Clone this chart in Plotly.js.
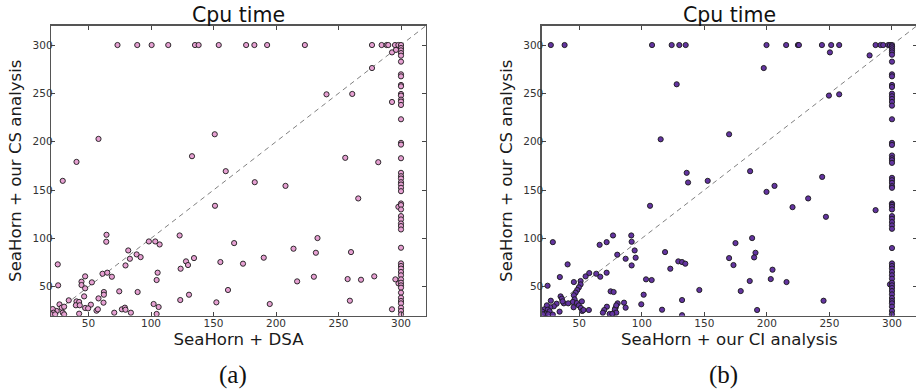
<!DOCTYPE html>
<html>
<head>
<meta charset="utf-8">
<script src="https://cdn.plot.ly/plotly-3.0.1.min.js"></script>
<style>
html,body{margin:0;padding:0;overflow:hidden;background:#fff;width:916px;height:391px;}
#plot{width:920px;height:391px;}
</style>
</head>
<body>
<div id="plot"></div>
<script>
// Panel (a): SeaHorn + DSA (x) vs SeaHorn + our CS analysis (y)
const dsaX = [73.2,89,100.5,113.8,135.2,138.1,154.2,176.1,182.7,192.9,223.1,276.8,284.5,288.5,289.8,295.2,297.9,
  292.8,296,276.8,292.8,
  297.9,298,292.8,295.5,
  58,40.4,29.4,151,132.8,159.8,183,207.6,151.2,240.4,261,255.4,281.8,265.8,233.2,214,231.9,260,190.2,173.6,155.5,166.5,
  122.9,134.4,128,129.6,123.7,230.3,257.3,268,278.6,216.9,161.6,130.4,123.4,152.3,195,259.1,
  98.3,103.4,106.9,105.3,104.5,102.1,106.1,104.5,64.4,64.2,81.8,88.5,83.1,91.7,79.6,61.2,65,68.7,47.3,44.4,44.4,52.7,47.3,
  25.4,25.7,46.5,62.3,62.3,74.6,89.3,58,34.2,62,51.9,40.4,42.5,39.9,43,47.3,49.7,56.4,57.5,76.7,79.1,79.6,70.6,83.9,42.5,
  26.8,28.6,30.5,24.6,21.4,22,20.1,29.4,30.5,23.3];
const csYa = [300,300,300,300,300,300,300,300,300,300,300,300,300,300,300,300,300,
  292.4,295,276.2,241.1,
  132.6,53.4,26.6,57.6,
  202.9,179.1,159.5,207.7,185,169.5,158.1,154.3,133.7,249,249.4,183.3,178.8,141.3,100.3,89.3,85.1,85.8,80,73.8,75.5,95.1,
  103,79.6,76.2,72.4,68.6,60.3,57.9,57.2,60.7,55.5,46.6,41.7,36.2,33.8,32.1,35.5,
  96.8,96.8,93.7,64.5,56.9,32.1,29,21.8,103.7,96.5,87.5,83.4,78.9,80.6,72,63.4,64.5,60.3,60.7,55.2,51.7,54.5,48.3,
  73.1,51.4,40,44.5,41.7,45.2,44.5,37.9,35.9,33.5,31.4,34.8,34.2,30.8,30.8,28,27.6,25.2,26.6,26.6,28.3,26.2,23.1,23.1,22.1,
  31.7,28.3,29.3,24.9,26.9,23.1,21.4,23.1,21.4,21.4];
// points at the 300 s timeout of the DSA run
const colAY = [300,296.9,294.5,291.7,289,282.8,269.7,267.6,258.7,257.3,249.4,247.7,243.5,241.5,238,223.2,198.8,197,182.9,
  167.8,164.3,161.9,158.1,155.7,152.3,148.8,136.1,134.4,129.9,123,119.6,115.4,112.7,109.2,90.3,74.1,71.4,68.7,65.2,61.8,
  57.6,54.1,51.4,49,43.8,38.6,35.2,32.8,28.3,24.9,21.4];

// Panel (b): SeaHorn + our CI analysis (x) vs SeaHorn + our CS analysis (y)
const ciX = [27.3,38.3,108.2,123.9,130,135.1,199.7,215.4,224.8,225.6,244,251.4,257.8,286.9,290.9,293,297,298.4,
  250.4,282.1,197.5,127.9,249.6,257.8,115.1,169.8,135.9,137,152.7,186.6,244.2,206.1,199.7,233,220.5,286.9,247.2,106.6,
  188.2,174.9,190.9,189.8,169.8,173.3,204.5,203.1,186.3,215.7,179.1,146,245.3,192.2,118.6,122.8,129.2,132.2,134.8,
  103.4,107.9,101.5,99.6,132.2,116.2,132.2,91.6,91.9,94.3,95.1,91.9,87.1,80.4,77,71.9,66.3,66.8,63.6,71.9,58,55.1,
  51.1,45.7,51.1,49.7,48.4,47.1,45.7,46.3,44.9,45.5,48.1,49.7,51.3,52.1,52.4,53.4,57.7,34.5,40.7,28.9,24.7,35.1,36.1,
  37.7,41.2,36.7,34.3,27.3,31.9,29.7,26.8,24.1,22,24.9,26.3,20.4,23.1,21,25.2,28.9,75.1,77.5,72.1,70,68.9,74.3,77.7,
  79.1,80.7,78.5,79.6,85.8,87.1,79.6,76.4,298.4];
const csYb = [300,300,300,300,300,300,300,300,300,300,300,300,300,300,300,300,300,300,
  292.4,289.3,276.2,259.4,247.7,249,202.5,207.7,167.8,157.8,159.5,169.5,163.6,154.3,148.1,141.3,132.3,129.2,122.3,133.7,
  100.3,95.1,85.1,80.3,79.6,72.4,67.6,57.9,55.9,54.8,45.5,46.6,35.5,25.9,85.8,68.6,76.2,75.5,73.8,
  57.6,56.9,41.7,31.8,36.2,26.2,20.5,103,96.5,87.5,80,72,78.9,83.1,103,96.1,93.3,60.3,63.4,64.5,64.1,60.7,
  55.9,54.8,52.4,49.3,46.6,43.8,41.1,36.9,34.2,28.7,33.1,30.7,28,34.8,24.9,25.9,25.9,60,73.1,96.1,51,40,37.6,
  32.8,32.8,34.8,24.2,35.5,32.4,29.7,28.7,30.7,26.6,26.2,24.5,24.2,22.1,21.4,21.4,21.1,45.2,44.5,29.3,25.9,23.1,21.8,23.1,
  28.3,32.8,26.6,23.1,33.5,28.3,30.7,21.8,52.4];
// points at the 300 s timeout of the CI run
const colBY = [300,298.6,296.6,294.5,292.4,290,282.8,269.7,267.6,258.7,256.6,249.7,247,244.2,241.1,237.3,223.2,198.8,196.7,
  185.7,182.9,180.9,178.1,162.6,160.2,157.4,154,152.3,136.1,134.7,132.6,129.9,123,120.2,116.8,113.4,109.9,90,74.1,71.4,
  68.7,65.2,61.8,58.3,54.1,51.4,48.6,45.5,42.1,38.3,35.2,32.8,29.3,24.9,21.4];
const timeoutX = 300;
const diag = [20, 320];
const tickVals = [50, 100, 150, 200, 250, 300];
const tickText = ['50', '100', '150', '200', '250', '300'];
const panelTitles = ['Cpu time', 'Cpu time'];
const panelLabels = ['(a)', '(b)'];
const xTitles = ['SeaHorn + DSA', 'SeaHorn + our CI analysis'];
const yTitle = 'SeaHorn + our CS analysis';

const W = 920, H = 391;
const FONT = 'DejaVu Sans, sans-serif';
const pinkFill = '#e6a0d2', purpleFill = '#6334a0';

function pts(xs, ys, fill, xa, ya) {
  return {type: 'scatter', mode: 'markers', x: xs, y: ys, xaxis: xa, yaxis: ya, hoverinfo: 'x+y',
    marker: {size: 5.2, color: fill, line: {color: '#1a1a1a', width: 0.9}}, showlegend: false};
}
function diagTrace(xa, ya) {
  return {type: 'scatter', mode: 'lines', x: diag, y: diag, xaxis: xa, yaxis: ya, hoverinfo: 'skip',
    line: {color: '#808080', width: 1, dash: '5px,4px'}, showlegend: false};
}
const traces = [
  diagTrace('x', 'y'),
  pts(dsaX, csYa, pinkFill, 'x', 'y'),
  pts(colAY.map(() => timeoutX), colAY, pinkFill, 'x', 'y'),
  diagTrace('x2', 'y2'),
  pts(ciX, csYb, purpleFill, 'x2', 'y2'),
  pts(colBY.map(() => timeoutX), colBY, purpleFill, 'x2', 'y2')
];

function ax(domain, title, isX) {
  return {
    domain: domain, range: [20, 320], autorange: false, showgrid: false, zeroline: false,
    showline: true, linecolor: '#555', linewidth: 1.3, mirror: 'ticks',
    ticks: 'inside', ticklen: 4, tickwidth: 1, tickcolor: '#444',
    tickmode: 'array', tickvals: tickVals, ticktext: tickText,
    ticklabelstandoff: isX ? -3 : -5,
    tickfont: {family: FONT, size: 10.5, color: '#333'},
    title: {text: title, font: {family: FONT, size: 16.6, color: '#1a1a1a'}, standoff: isX ? 5 : 6},
    automargin: false
  };
}
const xdA = [51 / W, 426 / W], xdB = [541.7 / W, 917 / W];
const yd = [(H - 315.7) / H, (H - 25.7) / H];
const serif = 'Liberation Serif, DejaVu Serif, serif';
const layout = {
  width: W, height: H, margin: {l: 0, r: 0, t: 0, b: 0},
  paper_bgcolor: '#fff', plot_bgcolor: '#fff',
  xaxis: ax(xdA, xTitles[0], true),
  yaxis: Object.assign(ax(yd, yTitle, false), {anchor: 'x'}),
  xaxis2: Object.assign(ax(xdB, xTitles[1], true), {anchor: 'y2'}),
  yaxis2: Object.assign(ax(yd, yTitle, false), {anchor: 'x2'}),
  annotations: [
    {text: panelTitles[0], xref: 'paper', yref: 'paper', x: (xdA[0] + xdA[1]) / 2, y: 1 - 14.5 / H,
      xanchor: 'center', yanchor: 'middle', showarrow: false, font: {family: FONT, size: 20.5, color: '#111'}},
    {text: panelTitles[1], xref: 'paper', yref: 'paper', x: (xdB[0] + xdB[1]) / 2, y: 1 - 14.5 / H,
      xanchor: 'center', yanchor: 'middle', showarrow: false, font: {family: FONT, size: 20.5, color: '#111'}},
    {text: panelLabels[0], xref: 'paper', yref: 'paper', x: 232.5 / W, y: 1 - 375 / H,
      xanchor: 'center', yanchor: 'middle', showarrow: false, font: {family: serif, size: 25, color: '#111'}},
    {text: panelLabels[1], xref: 'paper', yref: 'paper', x: 723 / W, y: 1 - 375 / H,
      xanchor: 'center', yanchor: 'middle', showarrow: false, font: {family: serif, size: 25, color: '#111'}}
  ]
};
Plotly.newPlot('plot', traces, layout, {staticPlot: true, displayModeBar: false});
</script>
</body>
</html>
